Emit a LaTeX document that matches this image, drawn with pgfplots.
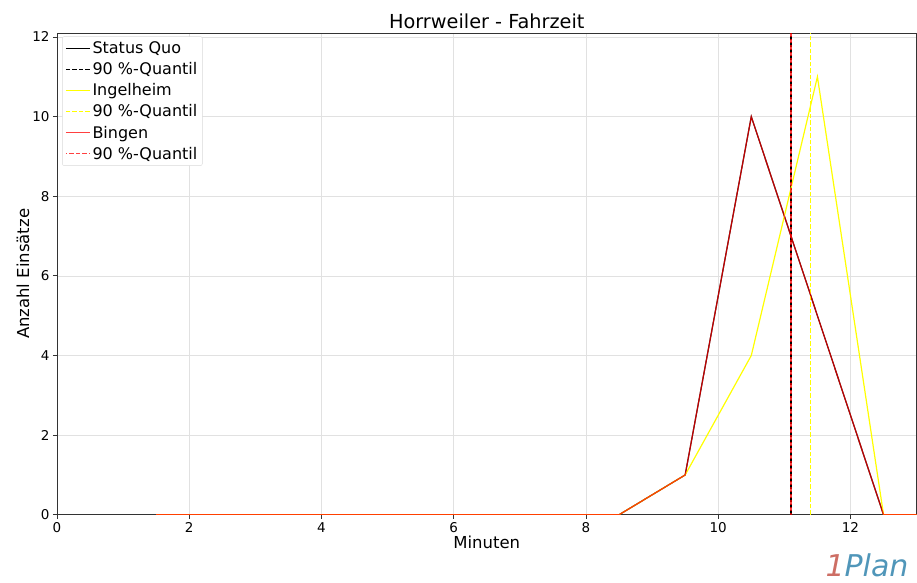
\documentclass[border=0pt]{standalone}
\usepackage{pgfplots}
\pgfplotsset{compat=1.18}
\usepackage{fontspec}
\setmainfont{DejaVu Sans}
\definecolor{ylw}{RGB}{255,255,0}
\definecolor{gridc}{RGB}{225,225,225}
\definecolor{logored}{RGB}{205,110,100}
\definecolor{logoblue}{RGB}{80,150,185}
\begin{document}
\begin{tikzpicture}
\begin{axis}[
  scale only axis, width=860pt, height=482pt,
  xmin=0, xmax=13, ymin=0, ymax=12.1,
  xtick={0,2,...,12}, ytick={0,2,...,12},
  grid=major, grid style={gridc, line width=0.6pt},
  axis line style={black!80, line width=0.8pt},
  tick style={black!80, line width=0.8pt},
  tick align=outside, major tick length=4pt,
  xtick pos=bottom, ytick pos=left,
  /pgf/number format/assume math mode=true,
  ticklabel style={font=\fontsize{13.5}{15}\selectfont},
  xlabel={Minuten}, ylabel={Anzahl Einsätze},
  label style={font=\fontsize{16.5}{19}\selectfont},
  xlabel style={yshift=3pt},
  ylabel style={yshift=-4pt},
  title={Horrweiler - Fahrzeit},
  title style={font=\fontsize{19.3}{22}\selectfont, yshift=-5pt},
  legend pos=north west,
  legend style={font=\fontsize{16}{19}\selectfont, draw=black!15, rounded corners=2pt, inner sep=3pt, row sep=3.5pt, at={(0.006,0.993)}},
  legend cell align=left,
  legend image code/.code={\draw[#1] (0pt,0pt) -- (24pt,0pt);},
]
\addplot[black, line width=1.2pt] coordinates {(1.5,0)(2.5,0)(3.5,0)(4.5,0)(5.5,0)(6.5,0)(7.5,0)(8.5,0)(9.5,1)(10.5,10)(11.5,5)(12.5,0)(13.5,0)};
\addlegendentry{Status Quo}
\addplot[black, dash pattern=on 4.5pt off 2pt, line width=1.2pt] coordinates {(11.1,0)(11.1,12.1)};
\addlegendentry{90 \%-Quantil}
\addplot[ylw, line width=1.2pt] coordinates {(1.5,0)(2.5,0)(3.5,0)(4.5,0)(5.5,0)(6.5,0)(7.5,0)(8.5,0)(9.5,1)(10.5,4)(11.5,11)(12.5,0)(13.5,0)};
\addlegendentry{Ingelheim}
\addplot[ylw, dash pattern=on 4.5pt off 2pt, line width=1.2pt] coordinates {(11.4,0)(11.4,12.1)};
\addlegendentry{90 \%-Quantil}
\addplot[red, opacity=0.75, line width=1.2pt] coordinates {(1.5,0)(2.5,0)(3.5,0)(4.5,0)(5.5,0)(6.5,0)(7.5,0)(8.5,0)(9.5,1)(10.5,10)(11.5,5)(12.5,0)(13.5,0)};
\addlegendentry{Bingen}
\addplot[red, opacity=0.75, dash pattern=on 4.5pt off 2pt, dash phase=3pt, line width=1.2pt] coordinates {(11.1,0)(11.1,12.1)};
\addlegendentry{90 \%-Quantil}
\end{axis}
\node[anchor=south east, inner sep=0pt, font=\itshape\fontsize{30}{30}\selectfont] at ([xshift=-8pt,yshift=-62pt]current axis.south east) {\textcolor{logored}{1}\textcolor{logoblue}{Plan}};
\useasboundingbox ([xshift=-57pt,yshift=-68pt]current axis.south west) rectangle ([yshift=33pt]current axis.north east);
\end{tikzpicture}
\end{document}
